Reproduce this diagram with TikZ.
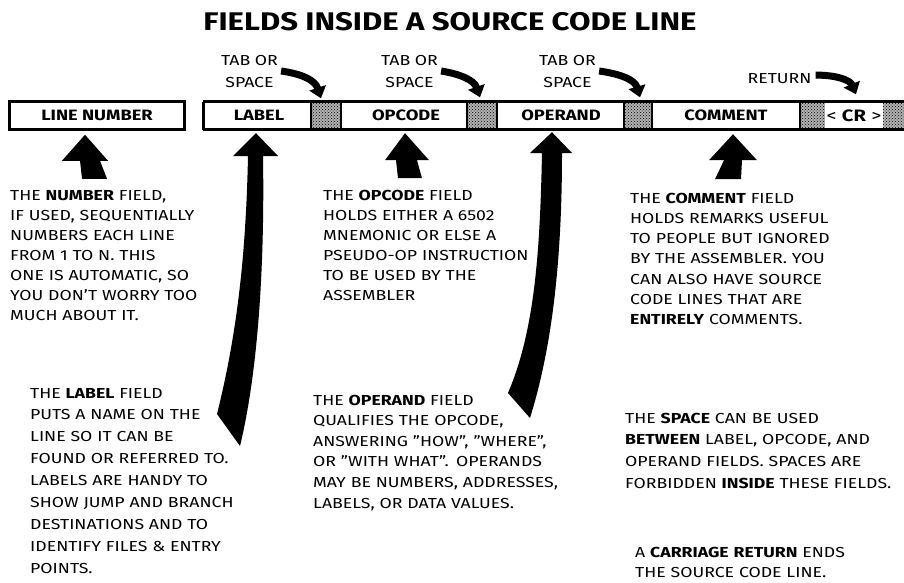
\documentclass[tikz,border=0pt]{standalone}
\usepackage{fontspec}
\setmainfont{Fira Sans}[FakeStretch=1.22]
\usetikzlibrary{arrows.meta,patterns,calc}
\begin{document}
\begin{tikzpicture}[x=1pt,y=-1pt,
  txt/.style={anchor=base west, inner sep=0pt, text width=290pt, align=left, font=\fontsize{14.5}{20}\selectfont},
  fieldtxt/.style={font=\bfseries\fontsize{15}{18}\selectfont},
  fieldbox/.style={minimum height=28pt, inner sep=0pt, anchor=center},
  stip/.style={preaction={fill=black!30}, pattern=crosshatch dots, pattern color=black},
  bigarrow/.style={fill=black, draw=none},
  tabarrow/.style={line width=7pt, -{Triangle[length=11pt,width=17pt]}},
  tabtxt/.style={align=center, anchor=base, inner sep=0pt, font=\fontsize{14.5}{22}\selectfont},
  barline/.style={line width=3pt},
  divline/.style={line width=1.6pt}]
\useasboundingbox (0,0) rectangle (904,582);

% title
\node[anchor=base, inner sep=0pt, font=\bfseries\fontsize{25.5}{30}\selectfont] (title) at (450,30) {FIELDS INSIDE A SOURCE CODE LINE};

% line number box
\node[fieldbox, draw, line width=2.5pt, minimum width=175pt, fieldtxt] (lnum) at (97,115.5) {LINE NUMBER};

% main bar fields
\node[fieldbox, stip, minimum width=30pt] (s1) at (326,115.5) {};
\node[fieldbox, stip, minimum width=30pt] (s2) at (482,115.5) {};
\node[fieldbox, stip, minimum width=28pt] (s3) at (638,115.5) {};
\node[fieldbox, stip, minimum width=104pt] (scr) at (852,115.5) {};
\node[fieldbox, minimum width=108pt, fieldtxt] (flabel) at (259,115.5) {LABEL};
\node[fieldbox, minimum width=126pt, fieldtxt] (fopcode) at (406,115.5) {OPCODE};
\node[fieldbox, minimum width=127pt, fieldtxt] (foperand) at (561,115.5) {OPERAND};
\node[fieldbox, minimum width=148pt, fieldtxt] (fcomment) at (726,115.5) {COMMENT};
\node[fill=white, inner xsep=2pt, inner ysep=0pt, minimum height=25pt, font=\fontsize{16.5}{18}\selectfont] (cr) at (854,115.5) {< \textbf{CR} >};

\draw[barline] (203,101.5) -- (904,101.5);
\draw[barline] (203,129.5) -- (904,129.5);
\draw[barline] (203,101.5) -- (203,129.5);
\foreach \xx in {311,341,467,497,624,652,800}
  \draw[divline] (\xx,101.5) -- (\xx,129.5);

% tab / return labels and arrows
\node[tabtxt] (tabA) at (249.5,87) {TAB OR\\SPACE};
\node[tabtxt] (tabB) at (409.5,87) {TAB OR\\SPACE};
\node[tabtxt] (tabC) at (567.5,87) {TAB OR\\SPACE};
\node[anchor=base, inner sep=0pt, font=\fontsize{14.5}{18}\selectfont] (ret) at (779.5,83) {RETURN};

\draw[tabarrow] ($(tabA.east)+(3,0)$) .. controls (302,74) and (315,80) .. ($(s1.north)+(-5,-3)$);
\draw[tabarrow] ($(tabB.east)+(3,0)$) .. controls (460,74) and (474,80) .. ($(s2.north)+(-2,-4)$);
\draw[tabarrow] ($(tabC.east)+(3,0)$) .. controls (621,74) and (635,80) .. ($(s3.north)+(2,-4)$);
\draw[tabarrow] ($(ret.east)+(4,-3)$) .. controls (836,75) and (850,80) .. ($(scr.north)+(4,-7)$);

% block arrows
\coordinate (tipN) at ($(lnum.south)+(-12,4)$);
\fill[bigarrow] (tipN) -- ++(-23,26) -- ++(18,0) -- ++(2,18) -- ++(25,0) -- ++(-7,-18) -- ++(8,0) -- cycle;

\coordinate (tipO) at ($(fopcode.south)+(-1,3.5)$);
\fill[bigarrow] (tipO) -- ++(-20,27) -- ++(11,0) -- ++(2,18) -- ++(24,0) -- ++(-5,-18) -- ++(12,0) -- cycle;

\coordinate (tipC) at ($(fcomment.south)+(7,4.5)$);
\fill[bigarrow] (tipC) -- ++(-24,26) -- ++(15,0) -- ++(-9,19) -- ++(26,0) -- ++(1,-19) -- ++(15,0) -- cycle;

\coordinate (tipL) at ($(flabel.south)+(-3,3.5)$);
\fill[bigarrow] (tipL) -- (233,156) -- (248,156)
  .. controls (246,250) and (238,330) .. (217,414) -- (240,446)
  .. controls (256,380) and (265,280) .. (263,156) -- (278,156) -- cycle;

\coordinate (tipP) at ($(foperand.south)+(-9,2.5)$);
\fill[bigarrow] (tipP) -- (530,153) -- (542,153)
  .. controls (540,250) and (535,330) .. (508,393) -- (530,418)
  .. controls (548,360) and (562,280) .. (562,153) -- (572,153) -- cycle;

% text blocks
\node[txt] (tnum) at (10,200) {THE \textbf{NUMBER} FIELD,\\IF USED, SEQUENTIALLY\\NUMBERS EACH LINE\\FROM 1 TO N. THIS\\ONE IS AUTOMATIC, SO\\YOU DON'T WORRY TOO\\MUCH ABOUT IT.};

\node[txt] (topc) at (323,200) {THE \textbf{OPCODE} FIELD\\HOLDS EITHER A 6502\\MNEMONIC OR ELSE A\\PSEUDO-OP INSTRUCTION\\TO BE USED BY THE\\ASSEMBLER};

\node[txt, font=\fontsize{14.5}{20.3}\selectfont] (tcom) at (630,203) {THE \textbf{COMMENT} FIELD\\HOLDS REMARKS USEFUL\\TO PEOPLE BUT IGNORED\\BY THE ASSEMBLER. YOU\\CAN ALSO HAVE SOURCE\\CODE LINES THAT ARE\\\textbf{ENTIRELY} COMMENTS.};

\node[txt, font=\fontsize{14.5}{21.9}\selectfont] (tlab) at (30,398) {THE \textbf{LABEL} FIELD\\PUTS A NAME ON THE\\LINE SO IT CAN BE\\FOUND OR REFERRED TO.\\LABELS ARE HANDY TO\\SHOW JUMP AND BRANCH\\DESTINATIONS AND TO\\IDENTIFY FILES \& ENTRY\\POINTS.};

\node[txt, font=\fontsize{14.5}{20.6}\selectfont] (topd) at (313,405) {THE \textbf{OPERAND} FIELD\\QUALIFIES THE OPCODE,\\ANSWERING "HOW", "WHERE",\\OR "WITH WHAT". OPERANDS\\MAY BE NUMBERS, ADDRESSES,\\LABELS, OR DATA VALUES.};

\node[txt, font=\fontsize{14.5}{21.7}\selectfont] (tspc) at (625,423) {THE \textbf{SPACE} CAN BE USED\\\textbf{BETWEEN} LABEL, OPCODE, AND\\OPERAND FIELDS. SPACES ARE\\FORBIDDEN \textbf{INSIDE} THESE FIELDS.};

\node[txt] (tcr) at (635,557) {A \textbf{CARRIAGE RETURN} ENDS\\THE SOURCE CODE LINE.};
\end{tikzpicture}
\end{document}
